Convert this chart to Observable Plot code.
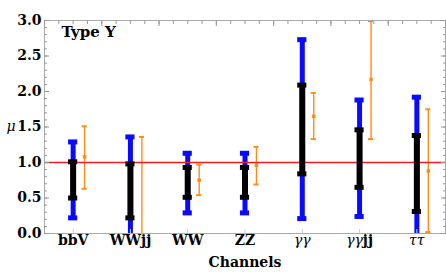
<!DOCTYPE html>
<html><head><meta charset="utf-8">
<script src="https://cdn.jsdelivr.net/npm/d3@7"></script>
<script src="https://cdn.jsdelivr.net/npm/@observablehq/plot@0.6"></script>
<style>body{margin:0;background:#fff}</style>
</head><body><div id="chart"></div>
<script>
const channels = ["bbV", "WWjj", "WW", "ZZ", "γγ", "γγjj", "ττ"];
const blueLo   = [0.22, -0.10, 0.29, 0.29, 0.21, 0.24, -0.10];
const blueHi   = [1.29, 1.36, 1.13, 1.13, 2.73, 1.88, 1.92];
const blackLo  = [0.50, 0.22, 0.51, 0.51, 0.84, 0.65, 0.31];
const blackHi  = [1.01, 0.98, 0.93, 0.93, 2.09, 1.46, 1.38];
const orangeLo = [0.63, -0.10, 0.54, 0.69, 1.33, 1.33, 0.02];
const orangeHi = [1.51, 1.36, 0.97, 1.22, 1.98, 2.99, 1.75];
const orangeMid= [1.08, null, 0.75, 0.96, 1.65, 2.17, 0.88];
const yTicks = [0, 0.5, 1.0, 1.5, 2.0, 2.5, 3.0];
const refLine = [1.0];
const title = "Type Y";
const xLabel = "Channels";
const yLabel = "μ";

const rows = channels.map((c, k) => ({
  i: k + 1, c,
  bLo: blueLo[k], bHi: blueHi[k],
  kLo: blackLo[k], kHi: blackHi[k],
  oLo: orangeLo[k], oHi: orangeHi[k], oMid: orangeMid[k]
}));
const capB = 0.08, capO = 0.044, off = 0.2;
const BLUE = "#0a0aff", ORANGE = "#ff8c1a", RED = "#ee1c1c", GRAY = "#999";
const minorY = d3.range(0, 31).map(k => k / 10);
const minorX = d3.range(0, 29).map(k => 0.5 + k / 4);
const majorX = d3.range(0, 8).map(k => 0.5 + k);
const catTicks = rows.map(d => d.i);

const chart = Plot.plot({
  width: 446, height: 273,
  marginLeft: 44, marginRight: 1, marginTop: 20, marginBottom: 40,
  style: {fontFamily: "DejaVu Serif", fontSize: "14px", fontWeight: "bold", background: "#fff", color: "#000"},
  x: {domain: [0.5, 7.5], axis: null},
  y: {domain: [0, 3], axis: null},
  marks: [
    // blue outer bars
    Plot.ruleX(rows, {x: "i", y1: "bLo", y2: "bHi", stroke: BLUE, strokeWidth: 5, clip: true}),
    Plot.ruleY(rows, {y: "bLo", x1: d => d.i - capB, x2: d => d.i + capB, stroke: BLUE, strokeWidth: 5, clip: true}),
    Plot.ruleY(rows, {y: "bHi", x1: d => d.i - capB, x2: d => d.i + capB, stroke: BLUE, strokeWidth: 5, clip: true}),
    // orange error bars
    Plot.ruleX(rows, {x: d => d.i + off, y1: "oLo", y2: "oHi", stroke: ORANGE, strokeWidth: 1.4, clip: true}),
    Plot.ruleY(rows, {y: "oLo", x1: d => d.i + off - capO, x2: d => d.i + off + capO, stroke: ORANGE, strokeWidth: 2, clip: true}),
    Plot.ruleY(rows, {y: "oHi", x1: d => d.i + off - capO, x2: d => d.i + off + capO, stroke: ORANGE, strokeWidth: 2, clip: true}),
    Plot.dot(rows.filter(d => d.oMid != null), {x: d => d.i + off, y: "oMid", symbol: "square", r: 2, fill: ORANGE, stroke: null}),
    // red reference line
    Plot.ruleY(refLine, {stroke: RED, strokeWidth: 1.6}),
    // black inner bars
    Plot.ruleX(rows, {x: "i", y1: "kLo", y2: "kHi", stroke: "#000", strokeWidth: 6, clip: true}),
    Plot.ruleY(rows, {y: "kLo", x1: d => d.i - capB, x2: d => d.i + capB, stroke: "#000", strokeWidth: 5, clip: true}),
    Plot.ruleY(rows, {y: "kHi", x1: d => d.i - capB, x2: d => d.i + capB, stroke: "#000", strokeWidth: 5, clip: true}),
    // frame
    Plot.frame({stroke: "#aaa"}),
    // inward ticks
    Plot.axisY({anchor: "left", ticks: minorY, tickSize: -3, stroke: GRAY, tickFormat: () => "", label: null}),
    Plot.axisY({anchor: "left", ticks: yTicks, tickSize: -5, stroke: GRAY, tickFormat: () => "", label: null}),
    Plot.axisY({anchor: "right", ticks: minorY, tickSize: -3, stroke: GRAY, tickFormat: () => "", label: null}),
    Plot.axisY({anchor: "right", ticks: yTicks, tickSize: -5, stroke: GRAY, tickFormat: () => "", label: null}),
    Plot.axisX({anchor: "top", ticks: minorX, tickSize: -3, stroke: GRAY, tickFormat: () => "", label: null}),
    Plot.axisX({anchor: "top", ticks: majorX, tickSize: -5, stroke: GRAY, tickFormat: () => "", label: null}),
    Plot.axisX({anchor: "bottom", ticks: catTicks, tickSize: -4, stroke: "#ccc", tickFormat: () => "", label: null}),
    // labels
    Plot.axisY({anchor: "left", ticks: yTicks, tickSize: 0, tickPadding: 3, tickFormat: d3.format(".1f"), label: null}),
    Plot.axisX({anchor: "bottom", ticks: catTicks, tickSize: 0, tickPadding: 2, tickFormat: i => channels[i - 1], label: null}),
    Plot.text([xLabel], {frameAnchor: "bottom", dy: 29.5, lineAnchor: "middle", fontSize: 14, fontWeight: "bold"}),
    Plot.text([{t: yLabel, y: 1.5}], {y: "y", text: "t", frameAnchor: "left", dx: -29, textAnchor: "end", lineAnchor: "middle", fontStyle: "italic", fontWeight: "normal", fontSize: 14}),
    Plot.text([title], {frameAnchor: "top-left", dx: 17, dy: 11.5, textAnchor: "start", lineAnchor: "middle", fontSize: 15, fontWeight: "bold"})
  ]
});

// Greek letters in italic, non-bold (math style)
chart.querySelectorAll('g[aria-label="x-axis tick label"] text').forEach(t => {
  const s = t.textContent;
  if (!/[γτ]/.test(s)) return;
  t.textContent = "";
  const parts = s.match(/[γτ]+|[^γτ]+/g);
  parts.forEach(p => {
    const ts = document.createElementNS("http://www.w3.org/2000/svg", "tspan");
    ts.textContent = p;
    if (/[γτ]/.test(p)) { ts.setAttribute("font-style", "italic"); ts.setAttribute("font-weight", "normal"); }
    t.appendChild(ts);
  });
});
document.getElementById("chart").appendChild(chart);
</script>
</body></html>
